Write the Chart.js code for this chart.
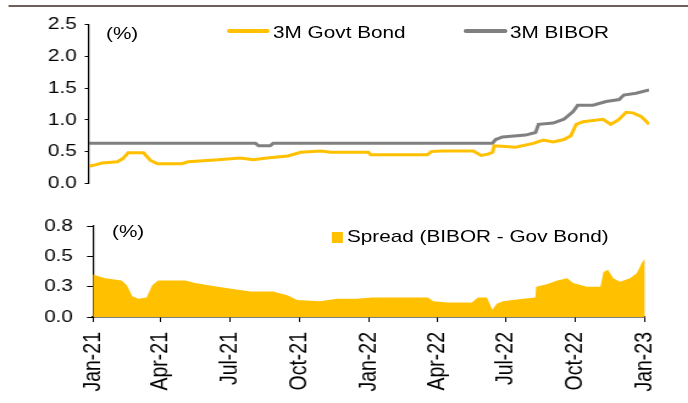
<!DOCTYPE html>
<html>
<head>
<meta charset="utf-8">
<script src="https://cdn.jsdelivr.net/npm/chart.js@4.4.1/dist/chart.umd.min.js"></script>
<style>
html, body { margin: 0; padding: 0; background: #fff; overflow: hidden; }
#stage { position: absolute; left: 0; top: 0; width: 564px; height: 403px; transform: scaleX(1.22); transform-origin: 0 0; font-family: "Liberation Sans", Arial, sans-serif; color: #000; }
#stage canvas { position: absolute; left: 0; }
.txt { position: absolute; font-size: 17px; line-height: 17px; white-space: nowrap; }
.blk { position: absolute; }
</style>
</head>
<body>
<div id="stage">
  <div class="blk" style="left:6.6px;top:4.5px;width:560px;height:2.5px;background:#6f605c"></div>
  <canvas id="topChart" width="564" height="192" style="top:8px;width:564px;height:192px"></canvas>
  <canvas id="spreadChart" width="564" height="203" style="top:200px;width:564px;height:203px"></canvas>

  <div class="txt" style="left:86.9px;top:24.6px">(%)</div>
  <div class="blk" style="left:186.1px;top:29px;width:35.2px;height:4px;background:#FFC000;border-radius:2px"></div>
  <div class="txt" style="left:223.8px;top:23.6px">3M Govt Bond</div>
  <div class="blk" style="left:380.3px;top:29px;width:35.3px;height:4px;background:#808080;border-radius:2px"></div>
  <div class="txt" style="left:418px;top:23.6px">3M BIBOR</div>

  <div class="txt" style="left:91.8px;top:222.6px">(%)</div>
  <div class="blk" style="left:272.1px;top:232px;width:9px;height:11px;background:#FFC000"></div>
  <div class="txt" style="left:284.4px;top:228.3px">Spread (BIBOR - Gov Bond)</div>
</div>
<script>
// x values are days since 1 Jan 2021
const bondDays   = [0, 8, 17, 37, 44, 51, 71, 80, 89, 121, 129, 168, 197, 214, 232, 259, 276, 302, 315, 364, 367, 441, 446, 458, 501, 511, 520, 526, 528, 543, 556, 579, 592, 605, 619, 628, 635, 644, 670, 680, 690, 700, 709, 720, 726, 730];
const bondValues = [0.27, 0.29, 0.32, 0.34, 0.39, 0.48, 0.48, 0.36, 0.31, 0.31, 0.34, 0.37, 0.40, 0.37, 0.40, 0.43, 0.49, 0.51, 0.49, 0.49, 0.45, 0.45, 0.50, 0.51, 0.51, 0.44, 0.46, 0.49, 0.59, 0.58, 0.57, 0.63, 0.68, 0.65, 0.69, 0.75, 0.93, 0.97, 1.01, 0.93, 1.00, 1.12, 1.11, 1.05, 0.98, 0.93];

const biborDays   = [0, 217, 221, 236, 240, 526, 530, 539, 569, 582, 586, 605, 619, 631, 637, 657, 674, 691, 697, 713, 730];
const biborValues = [0.63, 0.63, 0.59, 0.59, 0.63, 0.63, 0.69, 0.73, 0.76, 0.80, 0.93, 0.95, 1.01, 1.13, 1.23, 1.23, 1.29, 1.32, 1.39, 1.42, 1.47];

const spreadDays   = [0, 16, 38, 45, 52, 60, 71, 78, 86, 122, 135, 165, 185, 208, 238, 257, 270, 300, 323, 349, 369, 443, 450, 469, 501, 509, 521, 528, 534, 542, 569, 585, 586, 600, 614, 627, 635, 653, 671, 675, 681, 688, 697, 710, 719, 726, 730];
const spreadValues = [0.35, 0.32, 0.30, 0.26, 0.17, 0.15, 0.16, 0.26, 0.30, 0.30, 0.28, 0.25, 0.23, 0.21, 0.21, 0.18, 0.14, 0.13, 0.15, 0.15, 0.16, 0.16, 0.13, 0.12, 0.12, 0.16, 0.16, 0.06, 0.11, 0.13, 0.15, 0.16, 0.25, 0.27, 0.30, 0.32, 0.28, 0.25, 0.25, 0.37, 0.39, 0.32, 0.29, 0.32, 0.36, 0.45, 0.48];

const monthTickDays   = [0, 90, 181, 273, 365, 455, 546, 638, 730];
const monthTickLabels = ['Jan-21', 'Apr-21', 'Jul-21', 'Oct-21', 'Jan-22', 'Apr-22', 'Jul-22', 'Oct-22', 'Jan-23'];

const topTicks       = [0, 0.5, 1, 1.5, 2, 2.5];
const topTickLabels  = ['0.0', '0.5', '1.0', '1.5', '2.0', '2.5'];
const spreadTicks      = [0, 0.25, 0.5, 0.75];
const spreadTickLabels = ['0.0', '0.3', '0.5', '0.8'];

const toPoints = (days, vals) => days.map((d, i) => ({ x: d, y: vals[i] }));

Chart.defaults.font.family = '"Liberation Sans", Arial, sans-serif';
Chart.defaults.font.size = 17;
Chart.defaults.color = '#000';

new Chart(document.getElementById('topChart'), {
  type: 'line',
  data: {
    datasets: [
      { label: '3M Govt Bond', data: toPoints(bondDays, bondValues), borderColor: '#FFC000', borderWidth: 3, pointRadius: 0, tension: 0 },
      { label: '3M BIBOR', data: toPoints(biborDays, biborValues), borderColor: '#808080', borderWidth: 3, pointRadius: 0, tension: 0 }
    ]
  },
  options: {
    responsive: false,
    animation: false,
    events: [],
    layout: { padding: { left: 0, right: 32, top: 15, bottom: 15 } },
    plugins: { legend: { display: false }, tooltip: { enabled: false } },
    scales: {
      x: { type: 'linear', min: 0, max: 730, display: false },
      y: {
        min: 0, max: 2.5,
        afterFit: (s) => { s.width = 73; },
        afterBuildTicks: (s) => { s.ticks = topTicks.map(v => ({ value: v })); },
        ticks: { callback: (v, i) => topTickLabels[i], padding: 6.5, color: '#000' },
        grid: { drawOnChartArea: false, tickLength: 3.5, color: '#000' },
        border: { color: '#000', width: 1.2 }
      }
    }
  }
});

new Chart(document.getElementById('spreadChart'), {
  type: 'line',
  data: {
    datasets: [
      { label: 'Spread (BIBOR - Gov Bond)', data: toPoints(spreadDays, spreadValues), borderWidth: 0, backgroundColor: '#FFC000', fill: 'origin', pointRadius: 0, tension: 0 }
    ]
  },
  options: {
    responsive: false,
    animation: false,
    events: [],
    layout: { padding: { left: 0, right: 35.3, top: 26, bottom: 0 } },
    plugins: { legend: { display: false }, tooltip: { enabled: false } },
    scales: {
      x: {
        type: 'linear', min: 0, max: 730,
        afterFit: (s) => { s.height = 86; },
        afterBuildTicks: (s) => { s.ticks = monthTickDays.map(v => ({ value: v })); },
        ticks: { callback: (v, i) => monthTickLabels[i], autoSkip: false, minRotation: 90, maxRotation: 90, padding: 10, color: '#000', font: { size: 19.5 } },
        grid: { drawOnChartArea: false, tickLength: 5, color: '#000' },
        border: { color: '#000', width: 1.5 }
      },
      y: {
        min: 0, max: 0.75,
        afterFit: (s) => { s.width = 76.2; },
        afterBuildTicks: (s) => { s.ticks = spreadTicks.map(v => ({ value: v })); },
        ticks: { callback: (v, i) => spreadTickLabels[i], padding: 11.5, color: '#000' },
        grid: { drawOnChartArea: false, tickLength: 4.9, color: '#000' },
        border: { color: '#000', width: 1.2 }
      }
    }
  }
});
</script>
</body>
</html>
